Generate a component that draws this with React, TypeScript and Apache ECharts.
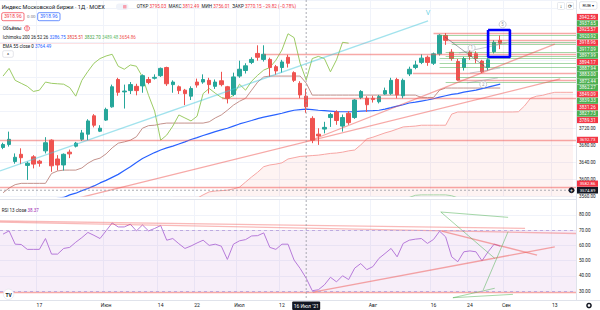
import React, { useEffect, useRef } from 'react';
import * as echarts from 'echarts';

const FONT = 'Roboto, "Noto Sans", sans-serif';

// ---- time axis (trading days) ----
const dates: string[] = [
  '2021-05-07','2021-05-10','2021-05-11','2021-05-12','2021-05-13','2021-05-14','2021-05-17','2021-05-18','2021-05-19','2021-05-20','2021-05-21','2021-05-24','2021-05-25','2021-05-26','2021-05-27','2021-05-28','2021-05-31',
  '2021-06-01','2021-06-02','2021-06-03','2021-06-04','2021-06-07','2021-06-08','2021-06-09','2021-06-10','2021-06-11','2021-06-14','2021-06-15','2021-06-16','2021-06-17','2021-06-18','2021-06-21','2021-06-22','2021-06-23','2021-06-24','2021-06-25','2021-06-28','2021-06-29','2021-06-30',
  '2021-07-01','2021-07-02','2021-07-05','2021-07-06','2021-07-07','2021-07-08','2021-07-09','2021-07-12','2021-07-13','2021-07-14','2021-07-15','2021-07-16','2021-07-19','2021-07-20','2021-07-21','2021-07-22','2021-07-23','2021-07-26','2021-07-27','2021-07-28','2021-07-29','2021-07-30',
  '2021-08-02','2021-08-03','2021-08-04','2021-08-05','2021-08-06','2021-08-09','2021-08-10','2021-08-11','2021-08-12','2021-08-13','2021-08-16','2021-08-17','2021-08-18','2021-08-19','2021-08-20','2021-08-23','2021-08-24','2021-08-25','2021-08-26','2021-08-27','2021-08-30','2021-08-31',
  '2021-09-01','2021-09-02','2021-09-03','2021-09-06','2021-09-07','2021-09-08','2021-09-09','2021-09-10','2021-09-13','2021-09-14','2021-09-15','2021-09-16',
];

const timeTicks: Record<string, string> = {
  '2021-05-17': '17', '2021-06-01': 'Июн', '2021-06-14': '14', '2021-06-22': '22', '2021-07-01': 'Июл',
  '2021-07-12': '12', '2021-08-02': 'Авг', '2021-08-16': '16', '2021-08-24': '24', '2021-09-01': 'Сен', '2021-09-13': '13',
};

// ---- candles [open, high, low, close] ----
const ohlc: number[][] = [
  [3675,3686,3671,3682],[3682,3712,3677,3694],[3642,3661,3637,3652],[3659,3673,3636,3651],[3633,3642,3599,3638],
  [3653,3657,3626,3636],[3643,3646,3630,3638],[3667,3699,3661,3686],[3692,3694,3618,3632],[3648,3657,3621,3634],
  [3634,3661,3621,3659],[3664,3670,3650,3660],[3678,3688,3675,3685],[3694,3716,3690,3709],[3706,3741,3692,3737],
  [3749,3753,3722,3727],[3713,3727,3711,3720],[3739,3768,3737,3764],[3770,3822,3768,3817],[3834,3838,3796,3804],
  [3805,3822,3766,3807],[3808,3828,3800,3822],[3818,3824,3797,3808],[3819,3846,3803,3843],[3834,3840,3823,3827],
  [3837,3846,3834,3839],[3843,3862,3840,3860],[3862,3864,3819,3824],[3822,3832,3803,3828],[3817,3820,3800,3808],
  [3809,3812,3774,3801],[3795,3818,3786,3813],[3828,3836,3815,3821],[3828,3846,3824,3834],[3832,3838,3801,3822],
  [3818,3834,3812,3828],[3831,3852,3818,3822],[3817,3819,3778,3790],[3799,3850,3795,3840],[3842,3878,3838,3858],
  [3855,3872,3848,3866],[3874,3886,3870,3881],[3895,3914,3878,3886],[3881,3914,3876,3893],[3881,3885,3840,3862],
  [3864,3868,3845,3854],[3862,3880,3850,3875],[3886,3892,3862,3872],[3850,3853,3828,3832],[3825,3830,3790,3798],
  [3795.03,3812.49,3756.01,3770.15],[3743,3748,3685,3692],[3706,3720,3681,3702],[3718,3735,3708,3722],[3745,3756,3723,3752],
  [3758,3762,3728,3738],[3725,3752,3712,3745],[3755,3760,3728,3733],[3745,3788,3742,3786],[3792,3809,3788,3806],
  [3790,3795,3758,3775],[3790,3796,3780,3787],[3782,3798,3778,3794],[3800,3815,3798,3808],[3801,3838,3798,3832],
  [3834,3838,3790,3798],[3796,3836,3790,3832],[3847,3864,3842,3858],[3862,3878,3858,3868],[3874,3893,3870,3884],
  [3886,3890,3866,3874],[3872,3897,3868,3894],[3894,3940,3890,3937.65],[3937,3942.56,3915,3925.57],[3898,3905,3878,3883],
  [3876,3882,3831.26,3832.70],[3862,3887,3855,3883],[3897.99,3903,3880,3887.94],[3894.17,3900,3872,3883],[3877,3880,3849.09,3852],
  [3862.27,3884,3855,3880],[3899,3926,3895,3920.92],[3925.57,3937,3905,3918.96],
];

const ema55: (number | null)[] = [
  null,null,null,null,null,null,null,3547,3552,3556,3558,3564,3568,3574,3579,3585,3592,3598,3605,3612,
  3621,3630,3640,3649,3656,3663,3669,3674,3678,3683,3688,3693.5,3698,3703,3707.5,3712,3716,3720,3725,3730,
  3734,3738,3742.5,3746,3749,3752,3755,3759,3762,3763.6,3764.49,3763.6,3762,3761,3760,3759,3758.5,3758.5,3759,3760,
  3760.5,3761,3762,3764.6,3768,3771.7,3775,3779,3781,3783.5,3786,3789,3792.8,3796,3799,3801,3804.5,3807,3809,3812.7,
  3816,3819.7,3823,
];

const kijun: number[] = [
  3569,3580,3588,3591,3591,3591,3591,3591,3614,3620,3622,3622,3622,3627,3638,3646,3650,3660,3674,3685,
  3688,3692,3700,3720,3726,3727,3730,3732,3732,3732,3732,3732,3732,3732,3735,3744,3751,3762,3774,3783,
  3790,3809,3828,3840,3842,3842,3842,3842,3842,3842,3825.51,3797.5,3797.5,3797.5,3797.5,3797.5,3797.5,3797.5,3797.5,3797.5,
  3797.5,3797.5,3797.5,3797.5,3797.5,3797.5,3797.5,3797.5,3797.5,3792,3792,3792,3809,3814,3814,3814,3814,3814,3814,3814,
  3814,3814,3814,
];

const chikou: number[] = [
  3842,3860,3832,3825,3818,3806,3809,3828,3825,3824,3823,3815,3795,3832,3853,3872,3883,3889,3893,3865,
  3858,3868,3865,3840,3797,3760,3692,3704,3725,3751,3744,3737,3748,3801,3813,3802,3792,3788,3797,3823,
  3809,3830,3844,3856,3862,3879,3903,3941,3932,3872,3832.70,3883,3888,3883,3852,3880,3921,3919,
];

const spanA: (number | null)[] = [
  null,null,null,null,null,null,null,null,null,null,null,null,null,null,null,null,null,null,null,null,
  null,null,null,null,null,null,null,null,3484,3484,3485,3485,3486,3486,3486,3487,3487,3487,3488,3488,
  3488,3488,3489,3489,3489,3489,3489,3489,3489,3489,3489.48,3490,3490,3491,3492,3493,3494,3495,3497,3500,
  3502,3505,3515,3528,3540,3548,3553,3558,3563,3564,3564,3564,3564,3564,3562,3557,3549,3544,3540,3540,
  3540,3540,3540,3540,3540,3540,3540,3540,3540,3540,3540,3540,3540,3540,3540,
];

const spanB: (number | null)[] = [
  null,null,null,null,null,null,null,null,null,null,null,null,null,null,null,null,null,null,null,null,
  null,null,null,null,null,null,null,null,3540,3544,3548,3551,3556,3564,3571,3573,3574,3575,3578,3582,
  3594,3606,3617,3630,3634,3636,3639,3648,3651,3654,3654.86,3656,3657,3659,3661,3662,3664,3667,3669,3681,
  3695,3699,3704,3709,3713,3718,3723,3724,3725,3727,3727,3727,3727,3727,3753,3758,3758,3758,3758,3758,
  3758,3758,3758,3758,3758,3758.5,3772,3790,3795,3797,3801,3804,3804,3804,3804,
];

const rsi13: number[] = [
  67.3,69.4,60.7,60.5,57.3,57.3,57.3,64.4,54.2,54.2,57.9,58.6,62,65,68.4,66.5,64.4,69.5,74.6,72,
  72,73.8,69.4,73.3,69.4,71,72.9,63.3,64.4,61,57.9,59.5,61.5,63.3,59.9,60.7,59.4,50.7,60.7,62.9,
  63.7,66.1,66.3,68.1,58.6,57.3,60.7,60.7,50.3,44.8,38.37,30.2,30.8,34,39,36,40,37.5,45,48,
  44,46,51.4,54.6,57.9,52.4,61.2,63.3,64,64.4,61.2,63.8,69.2,65.5,52.4,49.2,55.7,56.3,55.7,49.8,
  55.7,60.7,59.4,
];

// ---- drawings: [barPosition, price] ----
const redRays: number[][] = [
  [71, 3942.56], [73, 3925.57], [43, 3894.17], [67.6, 3849.09], [75, 3831.26], [36.1, 3789.31], [-0.5, 3692.73], [-0.5, 3582.86],
];
const greenRays: number[][] = [
  [72, 3937.65], [74, 3920.92], [74, 3917.09], [73, 3897.99], [73, 3887.94], [72, 3883.0], [72, 3872.44], [72, 3862.27], [75, 3839.33], [73, 3827.73],
];
const cyanTrend: number[][] = [[-0.5, 3619.9], [70.1, 3970.9]];
const redTrends: number[][][] = [
  [[9.07, 3545], [91.9, 3835.2]],
  [[50.9, 3692.4], [91.0, 3917]],
];
const grayTrends: number[][][] = [
  [[72.9, 3933.4], [79.8, 3860.9]],
  [[75.2, 3896], [83.1, 3919.4]],
  [[77.0, 3849], [82.0, 3861]],
  [[76.5, 3826], [81.6, 3837.7]],
];
const waveMarks: (number | string)[][] = [[77.3, 3908, '1'], [79.2, 3822.7, '2'], [82.4, 3963, '5']];
const boxCorners: number[][] = [[80, 3949.8], [83.6, 3949.8], [83.6, 3886.6], [80, 3886.6], [80, 3949.8]];
const lastPrice = 3918.96;

const rsiRedLines: number[][][] = [
  [[-0.5, 75.9], [86.1, 71.1]],
  [[-0.5, 75.2], [94.5, 67.7]],
  [[72.35, 69.3], [88.07, 53.6]],
  [[51.1, 29.3], [91.0, 58.9]],
  [[-0.5, 29.5], [94.5, 29.5]],
];
const rsiGreenLines: number[][][] = [
  [[72.2, 81.8], [83.3, 78.3]],
  [[72.2, 81.8], [81.1, 51.4]],
  [[79.2, 30.7], [83.3, 68.9]],
  [[74.2, 25.6], [81.1, 31.8]],
  [[74.2, 25.6], [84.1, 27.8]],
];

// right scale tags (stacked by the terminal)
const stackTags: [string, string][] = [
  ['3942.56', 'r'], ['3937.65', 'g'], ['3925.57', 'r'], ['3920.92', 'g'], ['3918.96', 'r'], ['3917.09', 'g'],
  ['3897.99', 'g'], ['3894.17', 'r'], ['3887.94', 'g'], ['3883.00', 'g'], ['3872.44', 'g'], ['3862.27', 'g'],
  ['3849.09', 'r'], ['3839.33', 'g'], ['3831.26', 'r'], ['3827.73', 'g'], ['3789.31', 'r'],
];
const freeTags: [number, string][] = [[3692.73, 'r'], [3582.86, 'r']];
const crossDate = '2021-07-16';
const crossDateLabel = "16 Июл '21";
const crossPrice = 3574.89;

const RED = '#f23645';
const GREEN = '#4caf50';
const DARK = '#131722';

function txt(x: number, y: number, s: string, fill: string, size = 5, align = 'left', weight = 'normal') {
  return {
    type: 'text', x, y, z: 100,
    style: { text: s, fill, font: `${weight} ${size}px ${FONT}`, align, verticalAlign: 'middle', textAlign: align, textVerticalAlign: 'middle' },
  };
}
function richTxt(x: number, y: number, parts: [string, string][], size: number) {
  const rich: any = {};
  parts.forEach((p, i) => { rich['s' + i] = { fill: p[1], fontSize: size, fontFamily: FONT }; });
  return {
    type: 'text', x, y, z: 100,
    style: {
      text: parts.map((p, i) => `{s${i}|${p[0]}}`).join(''), rich, font: `${size}px ${FONT}`,
      align: 'left', verticalAlign: 'middle', textAlign: 'left', textVerticalAlign: 'middle',
    },
  };
}
function rect(x: number, y: number, w: number, h: number, fill: string, stroke?: string, r = 0, lw = 0.8) {
  return { type: 'rect', z: 99, shape: { x, y, width: w, height: h, r }, style: { fill, stroke: stroke || 'none', lineWidth: lw } };
}
function seg(x1: number, y1: number, x2: number, y2: number, stroke: string, lw = 1, dash?: number[]) {
  return { type: 'line', z: 98, shape: { x1, y1, x2, y2 }, style: { stroke, lineWidth: lw, lineDash: dash } };
}

export default function App() {
  const ref = useRef<HTMLDivElement>(null);
  useEffect(() => {
    if (!ref.current) return;
    const chart = echarts.init(ref.current, undefined, { renderer: 'svg' });
    const isTick = (i: number) => timeTicks[dates[i]] !== undefined;
    const lineItems: any[] = [];
    redRays.forEach(([x, v]) => lineItems.push({ coords: [[x, v], [94.5, v]], lineStyle: { color: '#ef5350', width: 1.3 } }));
    greenRays.forEach(([x, v]) => lineItems.push({ coords: [[x, v], [94.5, v]], lineStyle: { color: GREEN, width: 1 } }));
    lineItems.push({ coords: cyanTrend, lineStyle: { color: '#45c7dc', width: 1.3 } });
    redTrends.forEach((c) => lineItems.push({ coords: c, lineStyle: { color: '#ef5350', width: 1.3 } }));
    grayTrends.forEach((c, i) => lineItems.push({ coords: c, lineStyle: { color: i === 0 ? '#4a4e59' : '#8f929b', width: 1 } }));
    lineItems.push({ coords: [[-0.5, lastPrice], [94.5, lastPrice]], lineStyle: { color: 'rgba(242,54,69,0.3)', width: 1 } });

    const rsiItems: any[] = [];
    rsiRedLines.forEach((c, i) => rsiItems.push({ coords: c, lineStyle: { color: i < 2 ? 'rgba(239,83,80,0.8)' : '#ef5350', width: 1.3 } }));
    rsiGreenLines.forEach((c) => rsiItems.push({ coords: c, lineStyle: { color: GREEN, width: 1 } }));

    const gridLine = { color: '#f0f3fa', width: 1 };
    const option: any = {
      animation: false,
      backgroundColor: '#ffffff',
      grid: [
        { left: 0, top: 0, width: 576, height: 196.6 },
        { left: 0, top: 199.5, width: 576, height: 91.5 },
      ],
      xAxis: [
        { type: 'category', gridIndex: 0, data: dates, boundaryGap: true, axisLine: { show: false }, axisTick: { show: false }, axisLabel: { show: false },
          splitLine: { show: true, interval: (i: number) => isTick(i), lineStyle: gridLine } },
        { type: 'category', gridIndex: 1, data: dates, boundaryGap: true, axisLine: { show: false }, axisTick: { show: false },
          axisLabel: { show: true, interval: (i: number) => isTick(i), formatter: (v: string) => timeTicks[v] || '', margin: 11, fontSize: 5, color: DARK, fontFamily: FONT },
          splitLine: { show: true, interval: (i: number) => isTick(i), lineStyle: gridLine } },
        { type: 'value', gridIndex: 0, min: -0.5, max: 94.5, show: false },
        { type: 'value', gridIndex: 1, min: -0.5, max: 94.5, show: false },
      ],
      yAxis: [
        { type: 'value', gridIndex: 0, position: 'right', min: 3560, max: 4020, interval: 40,
          axisLine: { show: false }, axisTick: { show: false },
          // labels above 3740 sit under the stacked price tags in the reference
          axisLabel: { margin: 3, fontSize: 4.6, color: DARK, fontFamily: FONT, formatter: (v: number) => (v > 3740 ? '' : v.toFixed(2)) },
          splitLine: { lineStyle: gridLine } },
        { type: 'value', gridIndex: 1, position: 'right', min: 30, max: 90, interval: 10,
          axisLine: { show: false }, axisTick: { show: false },
          axisLabel: { margin: 3, fontSize: 4.6, color: DARK, fontFamily: FONT, formatter: (v: number) => (v > 85 ? '' : v.toFixed(2)) },
          splitLine: { lineStyle: gridLine } },
      ],
      series: [
        { type: 'line', xAxisIndex: 0, yAxisIndex: 0, data: spanB, symbol: 'none', z: 1,
          lineStyle: { color: '#f7a6a4', width: 1 }, areaStyle: { color: 'rgba(244,67,54,0.09)', origin: 'start' } },
        { type: 'line', xAxisIndex: 0, yAxisIndex: 0, data: spanA, symbol: 'none', z: 1, lineStyle: { color: '#a5d6a7', width: 1 } },
        { type: 'line', xAxisIndex: 0, yAxisIndex: 0, data: kijun, symbol: 'none', z: 2, lineStyle: { color: '#c4928c', width: 1 } },
        { type: 'line', xAxisIndex: 0, yAxisIndex: 0, data: ema55, symbol: 'none', z: 2, lineStyle: { color: '#2962ff', width: 1.2 } },
        { type: 'line', xAxisIndex: 0, yAxisIndex: 0, data: chikou, symbol: 'none', z: 2, lineStyle: { color: '#9ccc65', width: 1 } },
        { type: 'candlestick', xAxisIndex: 0, yAxisIndex: 0, z: 3, barWidth: 4,
          data: ohlc.map((d) => [d[0], d[3], d[2], d[1]]),
          itemStyle: { color: '#26a69a', color0: '#ef5350', borderColor: '#26a69a', borderColor0: '#ef5350', borderWidth: 1 } },
        { type: 'lines', coordinateSystem: 'cartesian2d', xAxisIndex: 2, yAxisIndex: 0, z: 4, data: lineItems, symbol: 'none' },
        { type: 'line', xAxisIndex: 2, yAxisIndex: 0, data: boxCorners, symbol: 'none', z: 5, lineStyle: { color: '#0000ff', width: 2.6 } },
        { type: 'scatter', xAxisIndex: 2, yAxisIndex: 0, z: 6, symbol: 'circle', symbolSize: 7,
          data: waveMarks.map((m) => ({ value: [m[0], m[1]], name: m[2] })),
          itemStyle: { color: '#ffffff', borderColor: '#b2b5be', borderWidth: 0.8 },
          label: { show: true, position: 'inside', formatter: '{b}', fontSize: 4.5, color: '#787b86', fontFamily: FONT } },
        { type: 'scatter', xAxisIndex: 2, yAxisIndex: 0, z: 6, symbolSize: 0.1, data: [{ value: [70.1, 3989.6], name: 'V' }],
          label: { show: true, position: 'inside', formatter: '{b}', fontSize: 7, color: '#45c7dc', fontFamily: FONT } },
        { type: 'line', xAxisIndex: 1, yAxisIndex: 1, data: rsi13, symbol: 'none', z: 3, lineStyle: { color: '#b67ad9', width: 1 },
          markArea: { silent: true, itemStyle: { color: 'rgba(156,39,176,0.08)' }, data: [[{ yAxis: 70 }, { yAxis: 30 }]] },
          markLine: { silent: true, symbol: 'none', label: { show: false }, lineStyle: { color: '#b39ddb', type: [3, 3], width: 0.8 }, data: [{ yAxis: 70 }, { yAxis: 30 }] } },
        { type: 'lines', coordinateSystem: 'cartesian2d', xAxisIndex: 3, yAxisIndex: 1, z: 4, data: rsiItems, clip: false },
      ],
    };
    chart.setOption(option);

    const cx = chart.convertToPixel({ xAxisIndex: 0 }, dates.indexOf(crossDate)) as number;
    const cy = chart.convertToPixel({ yAxisIndex: 0 }, crossPrice) as number;
    const g: any[] = [];
    // borders
    g.push(seg(576.5, 0, 576.5, 300, '#e0e3eb', 1));
    g.push(seg(0, 300.5, 600, 300.5, '#e0e3eb', 1));
    g.push(seg(0, 199.5, 576, 199.5, '#e0e3eb', 1));
    // crosshair
    g.push(seg(cx, 0, cx, 300, '#9598a1', 0.8, [2, 2]));
    g.push(seg(0, cy, 576, cy, '#9598a1', 0.8, [2, 2]));
    g.push(rect(cx - 14, 301.5, 28, 8.5, DARK, undefined, 1));
    g.push(txt(cx, 305.8, crossDateLabel, '#ffffff', 5, 'center'));
    // right scale tags
    stackTags.forEach(([t, c], i) => {
      const yc = 17 + 6.44 * i;
      g.push(rect(577, yc - 3.1, 21, 6.2, c === 'r' ? RED : GREEN));
      g.push(txt(587.5, yc, t, '#ffffff', 4.5, 'center'));
    });
    freeTags.forEach(([v, c]) => {
      let yc = chart.convertToPixel({ yAxisIndex: 0 }, v) as number;
      // the terminal pushes a tag up when it would collide with the crosshair tag
      if (Math.abs(yc - cy) < 6.6) yc = cy - 6.6;
      g.push(rect(577, yc - 3.1, 21, 6.2, c === 'r' ? RED : GREEN));
      g.push(txt(587.5, yc, v.toFixed(2), '#ffffff', 4.3, 'center'));
    });
    g.push(rect(577, cy - 3.3, 21, 6.6, DARK));
    g.push(txt(587.5, cy + 0.3, crossPrice.toFixed(2), '#ffffff', 4.3, 'center'));
    g.push({ type: 'circle', z: 99, shape: { cx: 571.5, cy, r: 3 }, style: { fill: DARK } });
    g.push(txt(571.5, cy, '+', '#ffffff', 5, 'center'));
    // header
    g.push(txt(1.7, 6.7, 'Индекс Московской биржи · 1Д · MOEX', DARK, 5.6));
    g.push(rect(116, 3.5, 12.5, 6.5, '#f0f3fa', undefined, 3));
    g.push(seg(118, 6.75, 121, 6.75, '#787b86', 0.8));
    g.push(rect(123, 5, 3.5, 3.5, '#f7a1b0', undefined, 0.5));
    g.push(richTxt(136.7, 6.7, [
      ['ОТКР ', DARK], ['3795.03  ', RED], ['МАКС ', DARK], ['3812.49  ', RED], ['МИН ', DARK], ['3756.01  ', RED],
      ['ЗАКР ', DARK], ['3770.15 ', RED], ['−29.82 (−0.78%)', RED],
    ], 4.6));
    g.push(rect(1.7, 12.7, 22.3, 8, '#ffffff', RED, 1.5, 0.7));
    g.push(txt(12.85, 16.8, '3918.96', RED, 4.8, 'center'));
    g.push(txt(27, 16.8, '0.00', '#787b86', 4.4));
    g.push(rect(37.7, 12.7, 22.3, 8, '#ffffff', '#2962ff', 1.5, 0.7));
    g.push(txt(48.85, 16.8, '3918.96', '#2962ff', 4.8, 'center'));
    g.push(txt(2.7, 28.3, 'Объёмы', DARK, 4.8));
    g.push({ type: 'circle', z: 99, shape: { cx: 27, cy: 28.3, r: 2.6 }, style: { fill: '#fde0e2', stroke: RED, lineWidth: 0.6 } });
    g.push(txt(27, 28.4, '!', RED, 4.5, 'center', 'bold'));
    g.push(richTxt(2.7, 37.3, [
      ['Ichimoku 200 26 52 26 ', DARK], ['3286.75 ', '#2962ff'], ['3825.51 ', '#e53935'],
      ['3832.70 ', '#43a047'], ['3489.48 ', '#66bb6a'], ['3654.86', '#ef5350'],
    ], 4.5));
    g.push(richTxt(2.7, 46, [['EMA 55 close 0 ', DARK], ['3764.49', '#2962ff']], 4.5));
    g.push(rect(2.7, 50.7, 10.6, 6.6, '#ffffff', '#d1d4dc', 1.5, 0.6));
    g.push(txt(8, 54.6, '^', DARK, 5, 'center'));
    g.push(richTxt(1.7, 210, [['RSI 13 close ', DARK], ['38.37', '#9c27b0']], 4.5));
    // top-right controls
    g.push(rect(557.5, 2.5, 7, 7, '#ffffff', '#d1d4dc', 1, 0.5));
    g.push(txt(561, 6, '↓', DARK, 5, 'center'));
    g.push(rect(566.5, 2.5, 7, 7, '#ffffff', '#d1d4dc', 1, 0.5));
    g.push(txt(570, 6, '⟳', DARK, 5, 'center'));
    g.push(rect(579.5, 1.7, 17.5, 7.6, '#ffffff', '#d1d4dc', 1.5, 0.6));
    g.push(txt(588.2, 5.6, 'RUB ▾', DARK, 4.4, 'center'));
    // logo & gear
    g.push({ type: 'circle', z: 99, shape: { cx: 8.6, cy: 294.3, r: 5.2 }, style: { fill: '#ffffff', stroke: '#e0e3eb', lineWidth: 0.6 } });
    g.push(txt(8.6, 294.5, 'TV', DARK, 5, 'center', 'bold'));
    g.push({ type: 'ring', z: 99, shape: { cx: 589, cy: 305.5, r: 2.8, r0: 1.3 }, style: { fill: DARK } });
    chart.setOption({ graphic: g });
    return () => chart.dispose();
  }, []);
  return <div ref={ref} style={{ position: 'absolute', left: 0, top: 0, width: 600, height: 310 }} />;
}
